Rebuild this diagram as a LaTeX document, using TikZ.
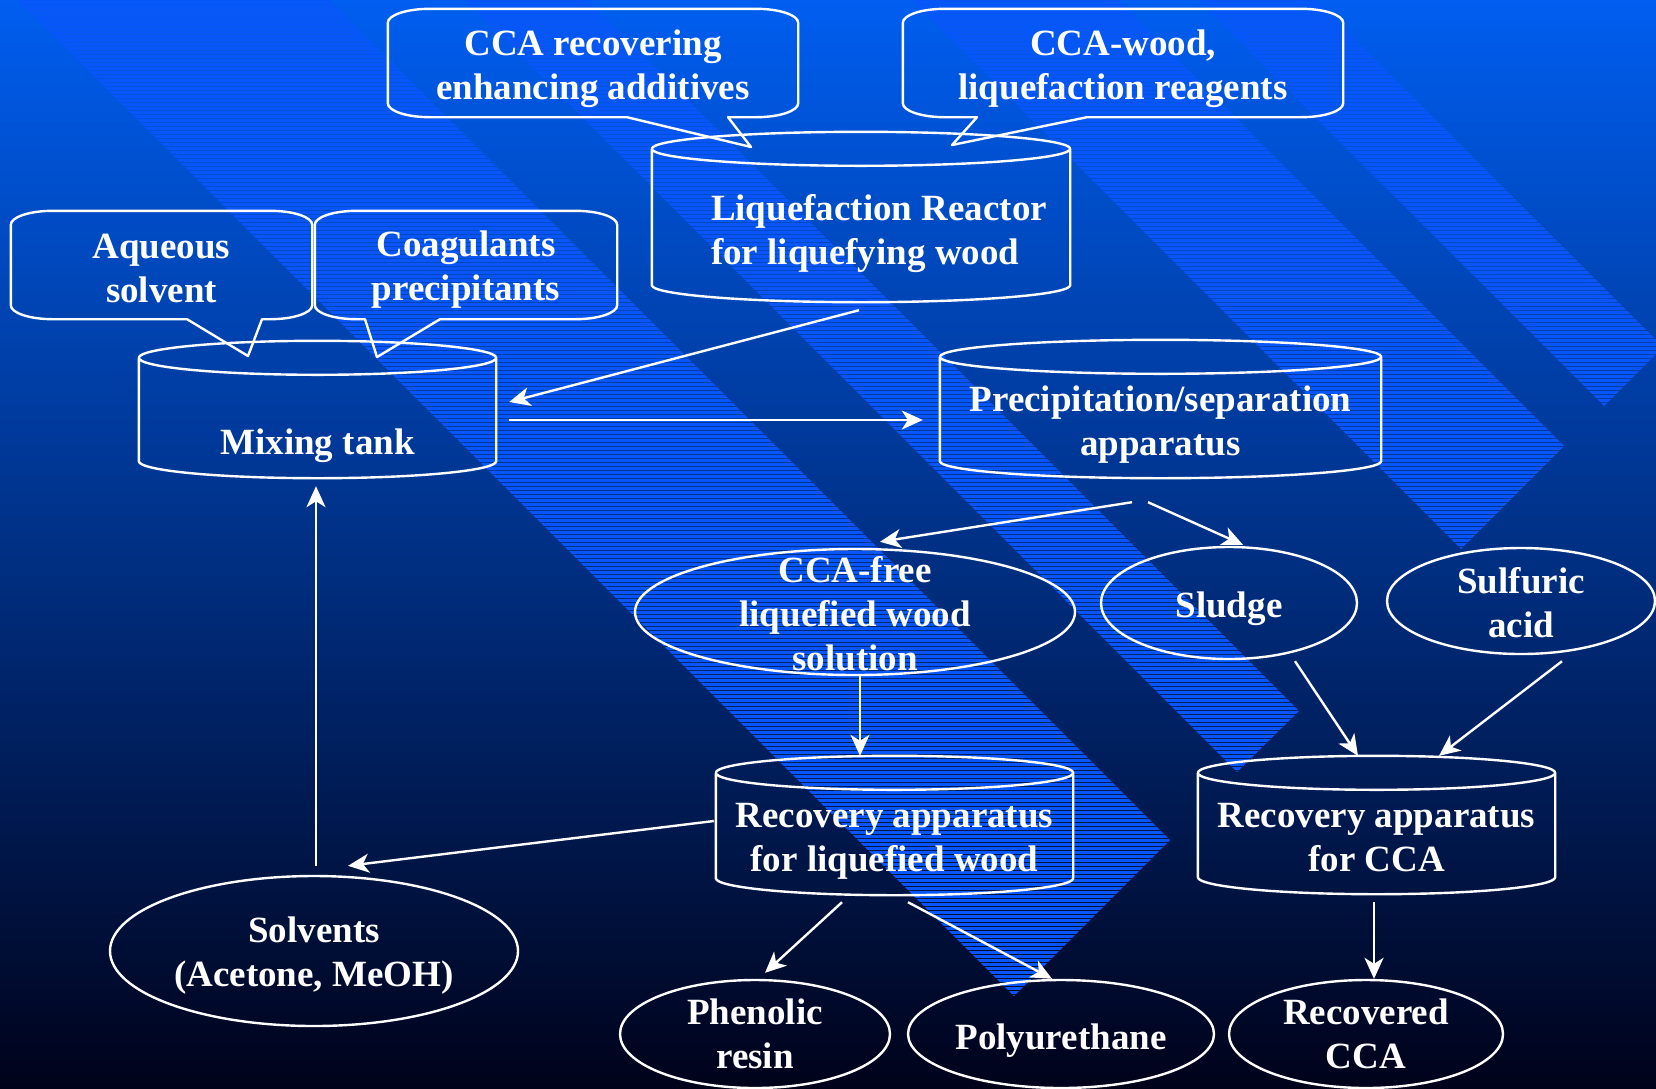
\documentclass[tikz,border=0pt]{standalone}
\usepackage{fontspec}
\setmainfont{Liberation Serif}
\usetikzlibrary{shapes.geometric,arrows.meta,calc}

\definecolor{bgtop}{RGB}{0,94,240}
\definecolor{bgmid}{RGB}{0,58,160}
\definecolor{bgbot}{RGB}{0,2,26}
\definecolor{ribbon}{RGB}{8,86,250}

% tank outline round a named node
\newcommand{\tankline}[1]{%
  \draw let \p1=(#1.south west), \p2=(#1.north east), \p3=($(#1.east)-(#1.center)$) in
    (\x1,\y2-17) arc[start angle=180,end angle=-180,x radius=\x3,y radius=17pt]
    (\x1,\y2-17) -- (\x1,\y1+17) arc[start angle=180,end angle=360,x radius=\x3,y radius=17pt]
    -- (\x2,\y2-17);
}
% speech bubble round a named node: left foot, right foot, tip
\newcommand{\bubble}[4]{%
  \draw let \p1=(#1.south west), \p2=(#1.north east) in
    (#2,\y1) -- (\x1+42,\y1) arc[start angle=270,end angle=180,x radius=42pt,y radius=14pt]
    -- (\x1,\y2-14) arc[start angle=180,end angle=90,x radius=42pt,y radius=14pt]
    -- (\x2-42,\y2) arc[start angle=90,end angle=0,x radius=42pt,y radius=14pt]
    -- (\x2,\y1+14) arc[start angle=0,end angle=-90,x radius=42pt,y radius=14pt]
    -- (#3,\y1) -- #4 -- cycle;
}

\begin{document}
\begin{tikzpicture}[x=1pt,y=1pt,line width=2.4pt,line join=round,draw=white,
    >={Stealth[length=21pt,width=19pt,inset=6pt]},
    every node/.style={text=white,font=\bfseries\fontsize{37}{44}\selectfont,
      align=center,inner sep=0pt},
    tank/.style 2 args={minimum width=#1pt,minimum height=#2pt},
    callbox/.style 2 args={minimum width=#1pt,minimum height=#2pt},
    pool/.style 2 args={ellipse,draw=white,minimum width=#1pt,minimum height=#2pt}]
  \useasboundingbox (0,0) rectangle (1656,-1088);
  \shade[top color=bgtop,middle color=bgmid,bottom color=bgbot]
    (0,0) rectangle (1656,-1088);

  % ribbons
  \begin{scope}
    \clip (-2,20) -- (1014,-996) -- (1170,-840) -- (310,20) -- cycle
          (445,20) -- (1237,-772) -- (1299,-711) -- (568,20) -- cycle
          (892,20) -- (1461,-549) -- (1564,-446) -- (1098,20) -- cycle
          (1178,20) -- (1604,-406) -- (1663,-347) -- (1296,20) -- cycle;
    \foreach \r in {0,4,...,1092}
      \draw[ribbon,line width=3pt] (-10,-\r) -- (1670,-\r);
  \end{scope}

  % tanks
  \node[tank={416}{168}] (reac) at (861,-217) {};
  \node[tank={355}{135}] (mix) at (317.5,-409.5) {};
  \node[tank={439}{136}] (prec) at (1160.5,-409) {};
  \node[tank={355}{137}] (reclw) at (894.5,-825.5) {};
  \node[tank={355}{136}] (recca) at (1376.5,-825) {};
  \tankline{reac}
  \tankline{mix}
  \tankline{prec}
  \tankline{reclw}
  \tankline{recca}
  \node[align=left] (reactxt) at ([xshift=18pt,yshift=-17pt]reac.center)
    {Liquefaction Reactor\\for liquefying wood};
  \node (mixtxt) at ([yshift=-36pt]mix.center) {Mixing tank};
  \node (prectxt) at ([yshift=-16pt]prec.center) {Precipitation/separation\\apparatus};
  \node (reclwtxt) at ([yshift=-16pt]reclw.center) {Recovery apparatus\\for liquefied wood};
  \node (reccatxt) at ([yshift=-13pt]recca.center) {Recovery apparatus\\for CCA};

  % callouts
  \node[callbox={299}{106}] (aq) at (161.5,-265) {};
  \node[callbox={300}{106}] (coag) at (466,-265) {};
  \node[callbox={408}{106}] (addi) at (593,-63) {};
  \node[callbox={438}{106}] (feed) at (1123,-63) {};
  \bubble{aq}{187}{262}{(248,-356)}
  \bubble{coag}{365}{440}{(377,-357)}
  \bubble{addi}{627}{728}{(751,-147)}
  \bubble{feed}{977}{1087}{(952,-145)}
  \node (aqtxt) at ([yshift=-3pt]aq.center) {Aqueous\\solvent};
  \node (coagtxt) at ([yshift=-5pt]coag.center) {Coagulants\\precipitants};
  \node (additxt) at ([yshift=-6pt]addi.center) {CCA recovering\\enhancing additives};
  \node (feedtxt) at ([yshift=-6pt]feed.center) {CCA-wood,\\liquefaction reagents};

  % ellipses
  \node[pool={440}{126}] (free) at (855,-612) {};
  \node[pool={256}{112}] (sludge) at (1229,-603) {};
  \node[pool={268}{106}] (sulf) at (1521,-601) {};
  \node[pool={408}{150}] (solv) at (314,-951) {};
  \node[pool={270}{108}] (phen) at (755,-1034) {};
  \node[pool={306}{108}] (poly) at (1061,-1034) {};
  \node[pool={274}{108}] (recov) at (1366,-1034) {};
  \node (freetxt) at ([yshift=-2pt]free.center) {CCA-free\\liquefied wood\\solution};
  \node (sludgetxt) at ([yshift=-6pt]sludge.center) {Sludge};
  \node (sulftxt) at ([yshift=-2pt]sulf.center) {Sulfuric\\acid};
  \node (solvtxt) at ([yshift=-5pt]solv.center) {Solvents\\(Acetone, MeOH)};
  \node (phentxt) at (phen.center) {Phenolic\\resin};
  \node (polytxt) at ([yshift=-7pt]poly.center) {Polyurethane};
  \node (recovtxt) at (recov.center) {Recovered\\CCA};

  % flows
  \draw[->] ([xshift=-2pt,yshift=-8pt]reac.south) -- ([xshift=13pt,yshift=7.5pt]mix.east);
  \draw[->] ([xshift=13pt,yshift=-10.5pt]mix.east) -- ([xshift=-17pt,yshift=-11pt]prec.west);
  \draw[->] ([xshift=-28.5pt,yshift=-24pt]prec.south) -- ([xshift=25pt,yshift=6pt]free.north);
  \draw[->] ([xshift=-12.5pt,yshift=-24pt]prec.south) -- ([xshift=14pt,yshift=1pt]sludge.north);
  \draw[->] ([xshift=5pt]free.south) -- ([xshift=-34.5pt]reclw.north);
  \draw[->] ([xshift=-2pt,yshift=4.5pt]reclw.west) -- ([xshift=34pt,yshift=9pt]solv.north);
  \draw[->] ([xshift=2pt,yshift=9pt]solv.north) -- ([xshift=-1.5pt,yshift=-8pt]mix.south);
  \draw[->] ([xshift=-52.5pt,yshift=-7pt]reclw.south) -- ([xshift=10pt,yshift=6pt]phen.north);
  \draw[->] ([xshift=13.5pt,yshift=-7pt]reclw.south) -- ([xshift=-9pt]poly.north);
  \draw[->] ([xshift=66pt,yshift=-1pt]sludge.south) -- ([xshift=-18.5pt]recca.north);
  \draw[->] ([xshift=41pt,yshift=-6pt]sulf.south) -- ([xshift=62.5pt]recca.north);
  \draw[->] ([xshift=-2.5pt,yshift=-8pt]recca.south) -- ([xshift=8pt]recov.north);
\end{tikzpicture}
\end{document}
